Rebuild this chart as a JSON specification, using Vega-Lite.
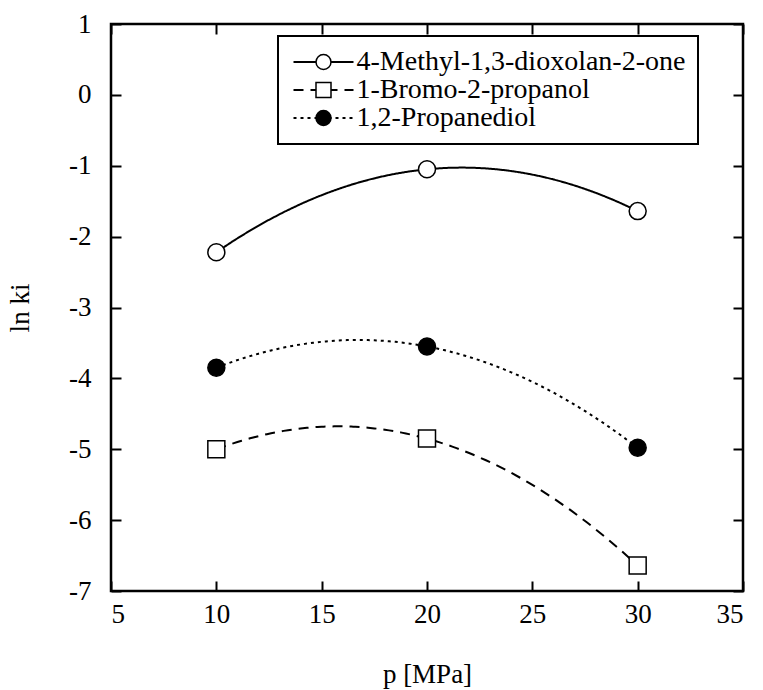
{
  "$schema": "https://vega.github.io/schema/vega-lite/v6.json",
  "width": 632,
  "height": 567,
  "autosize": {"type": "none"},
  "padding": {"left": 111, "top": 24, "right": 20, "bottom": 99},
  "background": "white",
  "config": {
    "view": {"stroke": "black", "strokeWidth": 2.5},
    "font": "Liberation Serif",
    "axis": {
      "grid": false, "domain": false, "tickColor": "black", "tickWidth": 2, "tickSize": -10,
      "labelFont": "Liberation Serif", "labelFontSize": 27, "labelColor": "black",
      "titleFont": "Liberation Serif", "titleFontSize": 27, "titleFontWeight": "normal", "titleColor": "black"
    },
    "legend": {"labelFont": "Liberation Serif", "labelFontSize": 28, "labelColor": "black", "labelLimit": 0, "strokeWidth": 2}
  },
  "data": {
    "values": [
      {"series": "4-Methyl-1,3-dioxolan-2-one", "p": 10, "lnk": -2.22},
      {"series": "4-Methyl-1,3-dioxolan-2-one", "p": 20, "lnk": -1.05},
      {"series": "4-Methyl-1,3-dioxolan-2-one", "p": 30, "lnk": -1.64},
      {"series": "1-Bromo-2-propanol", "p": 10, "lnk": -5.0},
      {"series": "1-Bromo-2-propanol", "p": 20, "lnk": -4.85},
      {"series": "1-Bromo-2-propanol", "p": 30, "lnk": -6.64},
      {"series": "1,2-Propanediol", "p": 10, "lnk": -3.85},
      {"series": "1,2-Propanediol", "p": 20, "lnk": -3.55},
      {"series": "1,2-Propanediol", "p": 30, "lnk": -4.98}
    ]
  },
  "layer": [
    {
      "transform": [
        {"regression": "lnk", "on": "p", "groupby": ["series"], "method": "poly", "order": 2, "extent": [10, 30]}
      ],
      "mark": {"type": "line", "color": "black", "strokeWidth": 2},
      "encoding": {
        "x": {
          "field": "p", "type": "quantitative",
          "scale": {"domain": [5, 35], "nice": false, "zero": false},
          "axis": {"orient": "top", "labels": false, "title": null, "values": [5, 10, 15, 20, 25, 30, 35]}
        },
        "y": {
          "field": "lnk", "type": "quantitative",
          "scale": {"domain": [-7, 1], "nice": false, "zero": false},
          "axis": {"orient": "right", "labels": false, "title": null, "values": [-7, -6, -5, -4, -3, -2, -1, 0, 1]}
        },
        "strokeDash": {
          "field": "series", "type": "nominal",
          "sort": ["4-Methyl-1,3-dioxolan-2-one", "1-Bromo-2-propanol", "1,2-Propanediol"],
          "scale": {"range": [[1, 0], [10, 7], [3, 4]]},
          "legend": {
            "orient": "none", "legendX": 167, "legendY": 12, "title": null, "padding": 12,
            "strokeColor": "black", "symbolType": "M-3,0L3,0", "symbolSize": 400,
            "symbolStrokeWidth": 2, "symbolStrokeColor": "black", "symbolFillColor": "transparent",
            "symbolOffset": 19.5, "labelOffset": 19, "rowPadding": 0
          }
        }
      }
    },
    {
      "mark": {"type": "point", "filled": true, "stroke": "black", "strokeWidth": 1.5, "size": 289, "opacity": 1},
      "encoding": {
        "x": {
          "field": "p", "type": "quantitative",
          "scale": {"domain": [5, 35], "nice": false, "zero": false},
          "axis": {"orient": "bottom", "title": "p [MPa]", "values": [5, 10, 15, 20, 25, 30, 35], "labelPadding": 20, "titlePadding": 34}
        },
        "y": {
          "field": "lnk", "type": "quantitative",
          "scale": {"domain": [-7, 1], "nice": false, "zero": false},
          "axis": {"orient": "left", "title": "ln ki", "values": [-7, -6, -5, -4, -3, -2, -1, 0, 1], "labelPadding": 30, "titlePadding": 34, "labelExpr": "'' + datum.value"}
        },
        "shape": {
          "field": "series", "type": "nominal",
          "scale": {"domain": ["4-Methyl-1,3-dioxolan-2-one", "1-Bromo-2-propanol", "1,2-Propanediol"], "range": ["circle", "square", "circle"]},
          "legend": {
            "orient": "none", "legendX": 167, "legendY": 12, "title": null, "padding": 12,
            "symbolSize": 225, "symbolOffset": 19.5, "labelExpr": "''", "rowPadding": 0,
            "encode": {"symbols": {"update": {"stroke": {"value": "black"}, "strokeWidth": {"value": 1.5}}}}
          }
        },
        "fill": {
          "field": "series", "type": "nominal",
          "scale": {"domain": ["4-Methyl-1,3-dioxolan-2-one", "1-Bromo-2-propanol", "1,2-Propanediol"], "range": ["white", "white", "black"]},
          "legend": {
            "orient": "none", "legendX": 167, "legendY": 12, "title": null, "padding": 12,
            "symbolSize": 225, "symbolOffset": 19.5, "labelExpr": "''", "rowPadding": 0,
            "encode": {"symbols": {"update": {"stroke": {"value": "black"}, "strokeWidth": {"value": 1.5}}}}
          }
        }
      }
    }
  ],
  "resolve": {"axis": {"x": "independent", "y": "independent"}}
}
